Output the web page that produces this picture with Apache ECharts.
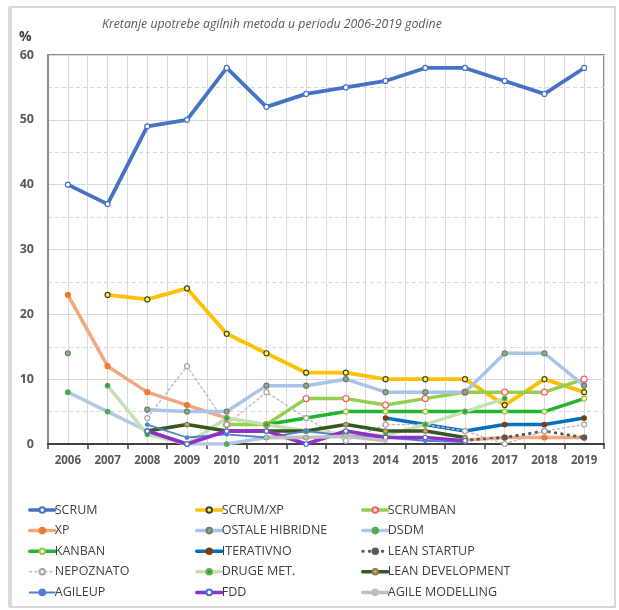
<!DOCTYPE html>
<html>
<head>
<meta charset="utf-8">
<script src="https://cdn.jsdelivr.net/npm/echarts@6/dist/echarts.min.js"></script>
<style>html,body{margin:0;padding:0;background:#fff;}#c{width:619px;height:610px;}</style>
</head>
<body>
<div id="c"></div>
<script>
const titleText = 'Kretanje upotrebe agilnih metoda u periodu 2006-2019 godine';
const years = ['2006','2007','2008','2009','2010','2011','2012','2013','2014','2015','2016','2017','2018','2019'];
const yTicks = [0, 10, 20, 30, 40, 50, 60];

const scrum          = [40, 37, 49, 50, 58, 52, 54, 55, 56, 58, 58, 56, 54, 58];
const scrumXp        = [null, 23, 22.3, 24, 17, 14, 11, 11, 10, 10, 10, 6, 10, 8];
const scrumban       = [null, null, null, null, 3, 3, 7, 7, 6, 7, 8, 8, 8, 10];
const xp             = [23, 12, 8, 6, 4, null, null, null, null, null, 0.6, 1, 1, 1];
const ostaleHibridne = [14, null, 5.3, 5, 5, 9, 9, 10, 8, 8, 8, 14, 14, 9];
const dsdm           = [8, 5, 2, 0, 0, 1, 1, null, null, null, null, null, null, null];
const kanban         = [null, null, null, null, null, 3, 4, 5, 5, 5, 5, 5, 5, 7];
const iterativno     = [null, null, null, null, null, null, null, null, 4, 3, 2, 3, 3, 4];
const leanStartup    = [null, null, null, null, null, null, null, null, null, null, 0.6, 1, 2, 1];
const nepoznato      = [null, null, 4, 12, 3, 8, 4, 0.5, 3, 3, 2, 0, 2, 3];
const drugeMet       = [null, 9, 1.5, 0, 4, 3, 2, 1.5, 1.3, 3, 5, 7, null, null];
const leanDev        = [null, null, 2, 3, 2, 2, 2, 3, 2, 2, 1, null, null, null];
const agileUp        = [null, null, 3, 1, 1.5, 1, 2, 1.3, 1, 0.5, 0.3, null, null, null];
const fdd            = [null, null, 2, 0, 2, 2, 0, 2, 1, 1, 0.5, null, null, null];
const agileModelling = [null, null, null, null, null, 1, 1, 1.2, 0.5, null, null, null, null, null];

function mk(name, data, color, width, mFill, mBorder, mSize, lineType) {
  return {
    name: name, type: 'line', data: data, xAxisIndex: 0, yAxisIndex: 0,
    symbol: 'circle', symbolSize: mSize, showSymbol: true, connectNulls: false,
    lineStyle: { color: color, width: width, type: lineType || 'solid', cap: 'round' },
    itemStyle: { color: mFill, borderColor: mBorder, borderWidth: 1.2 },
    emphasis: { disabled: true }
  };
}

const series = [
  mk('SCRUM', scrum, '#4472C4', 3.8, '#ffffff', '#4472C4', 5),
  mk('SCRUM/XP', scrumXp, '#FFC000', 3.8, '#FFFF33', '#404040', 5),
  mk('SCRUMBAN', scrumban, '#92D050', 3.5, '#ffffff', '#FF5B5B', 6),
  mk('XP', xp, '#F4A77E', 3.5, '#ED7D31', '#ED7D31', 5),
  mk('OSTALE HIBRIDNE', ostaleHibridne, '#A9C4EB', 3.5, '#8FA98A', '#6E7F6E', 5),
  mk('DSDM', dsdm, '#B4C7E7', 3.5, '#4CAF50', '#4CAF50', 4.5),
  mk('KANBAN', kanban, '#22B430', 3.5, '#FFFF99', '#9AC060', 5),
  mk('ITERATIVNO', iterativno, '#0070C0', 3.5, '#843C0C', '#843C0C', 4.5),
  mk('LEAN STARTUP', leanStartup, '#595959', 3, '#595959', '#595959', 5, [0.5, 6]),
  mk('NEPOZNATO', nepoznato, '#BFBFBF', 1.5, '#ffffff', '#A6A6A6', 5, [2, 3]),
  mk('DRUGE MET.', drugeMet, '#C5E0B4', 3.5, '#00B050', '#70AD47', 4.5),
  mk('LEAN DEVELOPMENT', leanDev, '#375623', 3.5, '#C9A96E', '#8C7A50', 4.5),
  mk('AGILEUP', agileUp, '#4F81D0', 1.8, '#4F81D0', '#4F81D0', 3.5),
  mk('FDD', fdd, '#8E2FC8', 3.5, '#ffffff', '#4472C4', 4.5),
  mk('AGILE MODELLING', agileModelling, '#BFBFBF', 3.5, '#BFBFBF', '#BFBFBF', 3.5)
];

const thinLegend = { 'NEPOZNATO': 1.5, 'AGILEUP': 2, 'LEAN STARTUP': 3 };

function legend(names, left) {
  return {
    data: names.map(n => thinLegend[n] ? { name: n, lineStyle: { width: thinLegend[n] } } : n),
    orient: 'vertical', left: left, top: 503, height: 107, padding: 0,
    itemWidth: 25, itemHeight: 7, itemGap: 6.6, selectedMode: false,
    lineStyle: { width: 3.5 },
    textStyle: { fontFamily: 'Open Sans', fontSize: 12.5, lineHeight: 14, color: '#404040', padding: [0, 0, 0, -5] }
  };
}

const chart = echarts.init(document.getElementById('c'), null, { renderer: 'canvas' });
chart.setOption({
  animation: false,
  backgroundColor: '#ffffff',
  title: {
    text: titleText, left: 97, top: 13,
    textStyle: { fontFamily: 'Open Sans', fontStyle: 'italic', fontWeight: 'normal', fontSize: 12.3, color: '#595959' }
  },
  graphic: [
    { type: 'rect', shape: { x: 10, y: 7, width: 605, height: 600 }, style: { fill: 'none', stroke: '#D9D9D9', lineWidth: 2 }, z: -10 },
    { type: 'rect', shape: { x: 8, y: 7, width: 4, height: 600 }, style: { fill: '#D9D9D9' }, z: -10 },
    { type: 'text', left: 19, top: 30, style: { text: '%', font: 'bold 14px "Open Sans"', fill: '#404040' } }
  ],
  legend: [
    legend(['SCRUM', 'XP', 'KANBAN', 'NEPOZNATO', 'AGILEUP'], 28),
    legend(['SCRUM/XP', 'OSTALE HIBRIDNE', 'ITERATIVNO', 'DRUGE MET.', 'FDD'], 195),
    legend(['SCRUMBAN', 'DSDM', 'LEAN STARTUP', 'LEAN DEVELOPMENT', 'AGILE MODELLING'], 361)
  ],
  grid: { left: 48, right: 15, top: 55, bottom: 166, show: true, borderColor: '#8C8C8C', borderWidth: 2 },
  xAxis: [
    {
      type: 'category', data: years, boundaryGap: true,
      axisLine: { lineStyle: { color: '#404040', width: 2 } },
      axisTick: { show: true, length: 5, lineStyle: { color: '#404040', width: 1.5 } },
      axisLabel: { fontFamily: 'Open Sans', fontWeight: 'bold', fontSize: 11.5, color: '#595959', margin: 11 },
      splitLine: { show: false }
    },
    {
      type: 'value', min: 2005.5, max: 2019.5, interval: 0.5, position: 'bottom',
      axisLine: { show: false }, axisTick: { show: false }, axisLabel: { show: false },
      splitLine: { show: true, lineStyle: { color: '#D9D9D9', width: 1 } }
    }
  ],
  yAxis: {
    type: 'value', min: yTicks[0], max: yTicks[yTicks.length - 1], interval: 10,
    axisLine: { show: true, lineStyle: { color: '#8C8C8C', width: 2 } },
    axisTick: { show: false },
    axisLabel: { fontFamily: 'Open Sans', fontWeight: 'bold', fontSize: 12.5, color: '#595959', margin: 14 },
    splitLine: { show: true, lineStyle: { color: '#D9D9D9', width: 1.2 } },
    minorTick: { show: false, splitNumber: 2 },
    minorSplitLine: { show: true, lineStyle: { color: '#D9D9D9', width: 1, type: [4, 3] } }
  },
  series: series
});
</script>
</body>
</html>
